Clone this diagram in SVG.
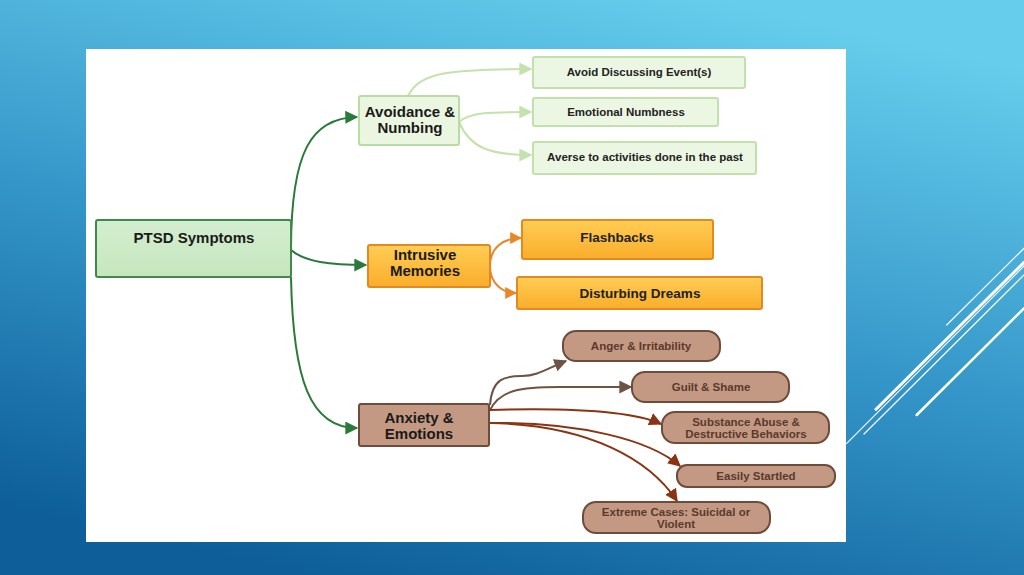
<svg xmlns="http://www.w3.org/2000/svg" width="1024" height="575" viewBox="0 0 1024 575">
  <defs>
    <linearGradient id="bg" x1="0.3" y1="1" x2="0.7" y2="0">
      <stop offset="0" stop-color="#0d5e99"/>
      <stop offset="0.5" stop-color="#3597c9"/>
      <stop offset="1" stop-color="#66cdec"/>
    </linearGradient>
    <linearGradient id="gPtsd" x1="0" y1="0" x2="0" y2="1">
      <stop offset="0" stop-color="#d4eed0"/>
      <stop offset="1" stop-color="#c6e6bd"/>
    </linearGradient>
    <linearGradient id="gOr" x1="0" y1="0" x2="0" y2="1">
      <stop offset="0" stop-color="#ffcd55"/>
      <stop offset="1" stop-color="#f9ad2a"/>
    </linearGradient>
    <marker id="mG" viewBox="0 0 10 10" refX="9" refY="5" markerWidth="14" markerHeight="13" markerUnits="userSpaceOnUse" orient="auto"><path d="M0,0 L10,5 L0,10 z" fill="#2a7a3b"/></marker>
    <marker id="mL" viewBox="0 0 10 10" refX="9" refY="5" markerWidth="13" markerHeight="13" markerUnits="userSpaceOnUse" orient="auto"><path d="M0,0 L10,5 L0,10 z" fill="#c4e2ad"/></marker>
    <marker id="mO" viewBox="0 0 10 10" refX="9" refY="5" markerWidth="12" markerHeight="12" markerUnits="userSpaceOnUse" orient="auto"><path d="M0,0 L10,5 L0,10 z" fill="#e8862a"/></marker>
    <marker id="mB" viewBox="0 0 10 10" refX="9" refY="5" markerWidth="13" markerHeight="13" markerUnits="userSpaceOnUse" orient="auto"><path d="M0,0 L10,5 L0,10 z" fill="#6e5344"/></marker>
    <marker id="mR" viewBox="0 0 10 10" refX="9" refY="5" markerWidth="13" markerHeight="13" markerUnits="userSpaceOnUse" orient="auto"><path d="M0,0 L10,5 L0,10 z" fill="#8a3414"/></marker>
  </defs>
  <style>
    text { font-family: "Liberation Sans", Arial, sans-serif; font-weight: bold; text-anchor: middle; }
    .t1 { font-size: 15px; fill: #1a1a1a; }
    .tg { font-size: 11.5px; fill: #222; }
    .to { font-size: 13.5px; fill: #222; }
    .tb { font-size: 11.5px; fill: #5a3a2c; }
    .lg { fill: #ecf7e3; stroke: #c2e0ac; stroke-width: 2; }
    .or { fill: url(#gOr); stroke: #e28a22; stroke-width: 2; }
    .br { fill: #c39983; stroke: #6e4b3b; stroke-width: 2; }
    .c { fill: none; stroke-width: 2; }
  </style>

  <rect x="0" y="0" width="1024" height="575" fill="url(#bg)"/>
  <g stroke="#ffffff" stroke-linecap="round">
    <line x1="946.7" y1="325" x2="1024" y2="248.3" stroke-width="1.2"/>
    <line x1="876" y1="409.3" x2="1024" y2="262.3" stroke-width="3"/>
    <line x1="846.7" y1="443.3" x2="1024" y2="266" stroke-width="1.2"/>
    <line x1="864" y1="434" x2="1024" y2="275" stroke-width="1.2"/>
    <line x1="916.7" y1="415" x2="1024" y2="308.3" stroke-width="2.5"/>
  </g>
  <rect x="86" y="49" width="760" height="493" fill="#ffffff"/>

  <g id="connectors">
    <path class="c" stroke="#2a7a3b" d="M291,250 C291,150 312,118 357,117" marker-end="url(#mG)"/>
    <path class="c" stroke="#2a7a3b" d="M291,250 C305,262 330,265 366,265" marker-end="url(#mG)"/>
    <path class="c" stroke="#2a7a3b" d="M291,277 C293,380 310,428 357,428" marker-end="url(#mG)"/>
    <path class="c" stroke="#c4e2ad" d="M408,96 C420,72 450,69 531,69" marker-end="url(#mL)"/>
    <path class="c" stroke="#c4e2ad" d="M459,122 C470,112 490,112 531,112" marker-end="url(#mL)"/>
    <path class="c" stroke="#c4e2ad" d="M459,122 C470,148 490,155 531,155" marker-end="url(#mL)"/>
    <path class="c" stroke="#e8862a" d="M490,266 C490,248 503,238 521,238" marker-end="url(#mO)"/>
    <path class="c" stroke="#e8862a" d="M490,266 C490,284 503,293 516,293" marker-end="url(#mO)"/>
    <path class="c" stroke="#6e5344" d="M490,405 C492,378 505,376 522,376 C538,376 548,368 566,361" marker-end="url(#mB)"/>
    <path class="c" stroke="#6e5344" d="M490,410 C500,390 520,387 560,387 L631,387" marker-end="url(#mB)"/>
    <path class="c" stroke="#8a3414" d="M490,410 C560,408 630,410 661,424" marker-end="url(#mR)"/>
    <path class="c" stroke="#8a3414" d="M490,423 C580,422 650,440 680,466" marker-end="url(#mR)"/>
    <path class="c" stroke="#8a3414" d="M490,423 C590,425 650,460 677,501" marker-end="url(#mR)"/>
  </g>

  <g id="ptsd">
    <rect x="96" y="220" width="195" height="57" rx="2" fill="url(#gPtsd)" stroke="#3f8a4a" stroke-width="2"/>
    <text class="t1" x="194" y="243">PTSD Symptoms</text>
  </g>
  <g id="avoidance">
    <rect x="359" y="96" width="100" height="49" rx="2" fill="#eaf6df" stroke="#b9dca3" stroke-width="2"/>
    <text class="t1" x="410" y="117">Avoidance &amp;</text>
    <text class="t1" x="410" y="133">Numbing</text>
  </g>
  <g id="avoid-discussing">
    <rect class="lg" x="533" y="57" width="212" height="31" rx="2"/>
    <text class="tg" x="639" y="76">Avoid Discussing Event(s)</text>
  </g>
  <g id="emotional-numbness">
    <rect class="lg" x="533" y="98" width="185" height="28" rx="2"/>
    <text class="tg" x="626" y="116">Emotional Numbness</text>
  </g>
  <g id="averse">
    <rect class="lg" x="533" y="142" width="223" height="32" rx="2"/>
    <text class="tg" x="645" y="161">Averse to activities done in the past</text>
  </g>
  <g id="intrusive">
    <rect class="or" x="368" y="245" width="122" height="42" rx="2"/>
    <text class="t1" x="425" y="260">Intrusive</text>
    <text class="t1" x="425" y="276">Memories</text>
  </g>
  <g id="flashbacks">
    <rect class="or" x="522" y="220" width="191" height="39" rx="2"/>
    <text class="to" x="617" y="242">Flashbacks</text>
  </g>
  <g id="disturbing-dreams">
    <rect class="or" x="517" y="277" width="245" height="32" rx="2"/>
    <text class="to" x="640" y="298">Disturbing Dreams</text>
  </g>
  <g id="anxiety">
    <rect class="br" x="359" y="404" width="130" height="42" rx="2"/>
    <text class="t1" x="419" y="423">Anxiety &amp;</text>
    <text class="t1" x="419" y="439">Emotions</text>
  </g>
  <g id="anger">
    <rect class="br" x="563" y="331" width="157" height="30" rx="13"/>
    <text class="tb" x="641" y="350">Anger &amp; Irritability</text>
  </g>
  <g id="guilt">
    <rect class="br" x="632" y="372" width="157" height="30" rx="13"/>
    <text class="tb" x="711" y="391">Guilt &amp; Shame</text>
  </g>
  <g id="substance">
    <rect class="br" x="662" y="412" width="167" height="31" rx="13"/>
    <text class="tb" x="746" y="426">Substance Abuse &amp;</text>
    <text class="tb" x="746" y="438">Destructive Behaviors</text>
  </g>
  <g id="startled">
    <rect class="br" x="677" y="465" width="158" height="22" rx="10"/>
    <text class="tb" x="756" y="480">Easily Startled</text>
  </g>
  <g id="extreme">
    <rect class="br" x="583" y="502" width="187" height="31" rx="13"/>
    <text class="tb" x="676" y="516">Extreme Cases: Suicidal or</text>
    <text class="tb" x="676" y="528">Violent</text>
  </g>
</svg>
